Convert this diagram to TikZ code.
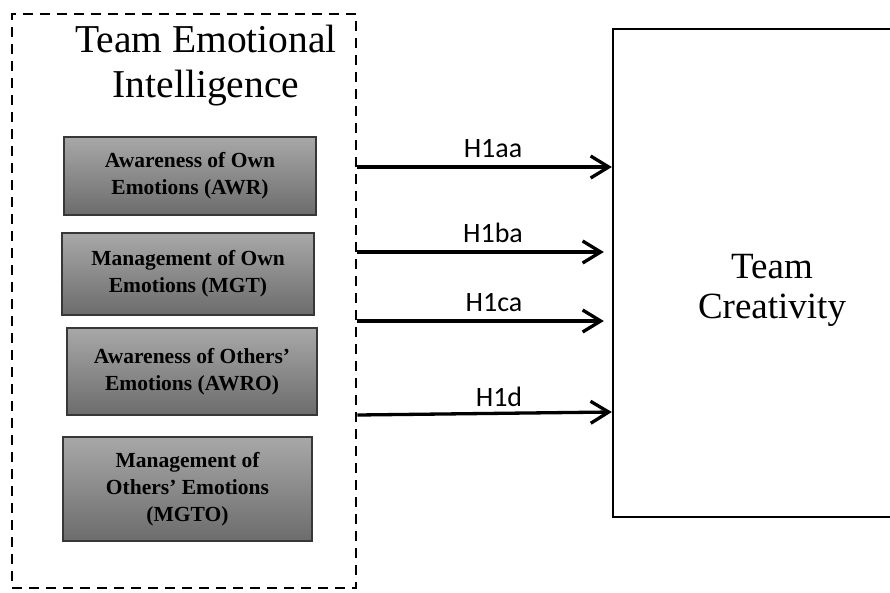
\documentclass[tikz,border=0pt]{standalone}
\usepackage{fontspec}
\setmainfont{Liberation Serif}
\newfontfamily\labfont{Carlito}
\usetikzlibrary{arrows.meta}
\definecolor{gtop}{RGB}{168,168,168}
\definecolor{gbot}{RGB}{108,108,108}
\definecolor{gborder}{RGB}{55,55,55}
\tikzset{
  gbox/.style={draw=gborder, line width=1.3pt, top color=gtop, bottom color=gbot,
    align=center, inner sep=0pt, font=\fontsize{21.5}{27}\selectfont\bfseries},
  arr/.style={line width=3.3pt, -{Straight Barb[length=18pt,width=22pt,line width=3.3pt]}},
  hlab/.style={font=\labfont\fontsize{28}{30}\selectfont, inner sep=0pt},
}
\begin{document}
\begin{tikzpicture}[x=1pt,y=-1pt]
\useasboundingbox (0,0) rectangle (890,592);
% dashed container
\node[draw, dash pattern=on 10pt off 7pt, line width=2.8pt,
  minimum width=344pt, minimum height=574pt, inner sep=0pt] (tei) at (184,301) {};
\node[align=center, inner sep=0pt, font=\fontsize{39.5}{45}\selectfont] (teit) at (206,66) {Team Emotional\\Intelligence};
% gray boxes
\node[gbox, minimum width=252pt, minimum height=78pt] (awr) at (190,176) {Awareness of Own\\Emotions (AWR)};
\node[gbox, minimum width=252pt, minimum height=82pt] (mgt) at (188,274) {Management of Own\\Emotions (MGT)};
\node[gbox, minimum width=250pt, minimum height=87pt] (awro) at (192,371.5) {Awareness of Others'\\Emotions (AWRO)};
\node[gbox, minimum width=249pt, minimum height=104pt] (mgto) at (187.5,489) {Management of\\Others' Emotions\\(MGTO)};
% team creativity
\node[draw, line width=2.4pt, minimum width=280pt, minimum height=488pt, inner sep=0pt] (tc) at (753,273) {};
\node[align=center, inner sep=0pt, font=\fontsize{37}{40}\selectfont] (tct) at (772,290) {Team\\Creativity};
% arrows
\draw[arr] (tei.east |- 0,167) -- (tc.west |- 0,167);
\draw[arr] (tei.east |- 0,252) -- ([xshift=-8pt]tc.west |- 0,252);
\draw[arr] (tei.east |- 0,321) -- ([xshift=-8pt]tc.west |- 0,321);
\draw[arr] (tei.east |- 0,415) -- (tc.west |- 0,412);
% labels
\node[hlab] (l1) at (493,149) {H1aa};
\node[hlab] (l2) at (493,233) {H1ba};
\node[hlab] (l3) at (494,303) {H1ca};
\node[hlab] (l4) at (499,397) {H1d};
\end{tikzpicture}
\end{document}
